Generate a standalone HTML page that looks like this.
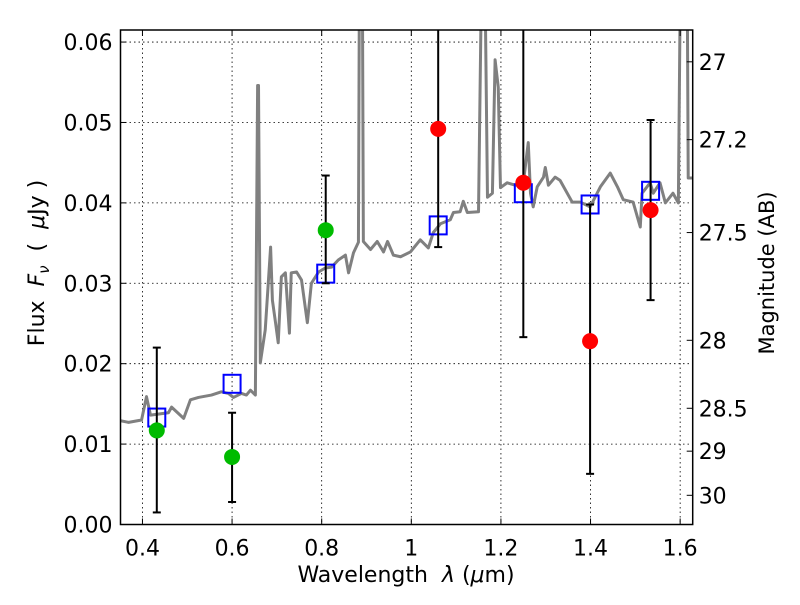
<!DOCTYPE html>
<html><head><meta charset="utf-8"><style>
body{margin:0;background:#fff}
svg text{font-family:"DejaVu Sans","Liberation Sans",sans-serif;fill:#000}
</style></head><body>
<svg id="c" width="800" height="600" viewBox="0 0 800 600"></svg>
<script>
const specWl=[0.351,0.369,0.398,0.409,0.418,0.458,0.465,0.492,0.507,0.525,0.554,0.576,0.592,0.603,0.621,0.632,0.641,0.652,0.657,0.659,0.663,0.674,0.686,0.690,0.697,0.703,0.710,0.719,0.728,0.732,0.744,0.755,0.768,0.777,0.793,0.808,0.822,0.837,0.853,0.860,0.871,0.882,0.884,0.891,0.893,0.909,0.924,0.938,0.947,0.960,0.976,0.998,1.020,1.038,1.049,1.065,1.087,1.094,1.109,1.116,1.125,1.150,1.156,1.165,1.170,1.181,1.187,1.194,1.199,1.214,1.232,1.250,1.261,1.266,1.272,1.281,1.295,1.299,1.306,1.321,1.332,1.359,1.377,1.399,1.422,1.444,1.460,1.473,1.495,1.511,1.515,1.533,1.540,1.555,1.567,1.584,1.596,1.600,1.616,1.618,1.630];
const specFlux=[0.0129,0.0127,0.0130,0.0159,0.0136,0.0139,0.0146,0.0132,0.0155,0.0158,0.0161,0.0165,0.0163,0.0158,0.0163,0.0161,0.0167,0.0161,0.0546,0.0546,0.0201,0.0242,0.0345,0.0279,0.0251,0.0226,0.0308,0.0313,0.0238,0.0313,0.0314,0.0304,0.0251,0.0300,0.0314,0.0319,0.0320,0.0329,0.0335,0.0313,0.0338,0.0351,0.065,0.065,0.0352,0.0342,0.0352,0.0339,0.0352,0.0335,0.0333,0.0339,0.0354,0.0344,0.0363,0.0374,0.0379,0.0388,0.0389,0.0402,0.0388,0.0389,0.065,0.065,0.0407,0.0412,0.0578,0.0544,0.0419,0.0425,0.0422,0.0425,0.0475,0.0412,0.0395,0.0420,0.0432,0.0444,0.0422,0.0432,0.0428,0.0401,0.0401,0.0395,0.0420,0.0437,0.0420,0.0404,0.0401,0.0370,0.0412,0.0425,0.0412,0.0425,0.0400,0.0412,0.0400,0.065,0.065,0.0431,0.0431];
const modelWl=[0.432,0.600,0.809,1.060,1.250,1.399,1.534];
const modelFlux=[0.0133,0.0175,0.0312,0.0372,0.0412,0.0398,0.0415];
const obsWl=[0.432,0.600,0.809,1.060,1.250,1.399,1.534];
const obsFlux=[0.0117,0.0084,0.0366,0.0492,0.0425,0.0228,0.0391];
const obsLo=[0.0015,0.0028,0.0300,0.0345,0.0233,0.0063,0.0279];
const obsHi=[0.0220,0.0139,0.0434,0.0700,0.0700,0.0398,0.0503];
const obsColor=['#00bb00','#00bb00','#00bb00','#ff0000','#ff0000','#ff0000','#ff0000'];
const xTicks=[0.4,0.6,0.8,1.0,1.2,1.4,1.6];
const xTickLabels=['0.4','0.6','0.8','1','1.2','1.4','1.6'];
const yTicks=[0,0.01,0.02,0.03,0.04,0.05,0.06];
const yTickLabels=['0.00','0.01','0.02','0.03','0.04','0.05','0.06'];
const magTicks=[27,27.2,27.5,28,28.5,29,30];
const magTickLabels=['27','27.2','27.5','28','28.5','29','30'];

const L=120.5,R=692.7,T=30,B=524.5;
const X0=0.351,X1=1.628,Y0=0,Y1=0.0615;
const sx=v=>L+(v-X0)/(X1-X0)*(R-L);
const sy=v=>B-(v-Y0)/(Y1-Y0)*(B-T);
const svg=document.getElementById('c');
const NS='http://www.w3.org/2000/svg';
function mk(tag,at,parent){const e=document.createElementNS(NS,tag);for(const k in at)e.setAttribute(k,at[k]);(parent||svg).appendChild(e);return e;}

const defs=mk('defs',{});
const cp=mk('clipPath',{id:'pc'},defs);
mk('rect',{x:L,y:T,width:R-L,height:B-T},cp);

xTicks.forEach(v=>{const g=mk('line',{x1:sx(v),x2:sx(v),y1:T,y2:B,stroke:'#000','stroke-width':0.8,'stroke-dasharray':'1.5,3'});

});
yTicks.slice(1).forEach(v=>{const g=mk('line',{x1:L,x2:R,y1:sy(v),y2:sy(v),stroke:'#000','stroke-width':0.8,'stroke-dasharray':'1.5,3'});

});

const plot=mk('g',{'clip-path':'url(#pc)'});


const sp=mk('polyline',{points:specWl.map((w,i)=>sx(w)+','+sy(specFlux[i])).join(' '),fill:'none',stroke:'#808080','stroke-width':3,'stroke-linejoin':'round'},plot);


modelWl.forEach((w,i)=>{const r=mk('rect',{x:sx(w)-8.5,y:sy(modelFlux[i])-9,width:17,height:18,fill:'none',stroke:'#0000ff','stroke-width':2},plot);

});
obsWl.forEach((w,i)=>{const g=mk('g',{},plot);


const x=sx(w);mk('line',{x1:x,x2:x,y1:sy(obsLo[i]),y2:sy(obsHi[i]),stroke:'#000','stroke-width':2},g);
[obsLo[i],obsHi[i]].forEach(v=>mk('line',{x1:x-4,x2:x+4,y1:sy(v),y2:sy(v),stroke:'#000','stroke-width':2},g));});
obsWl.forEach((w,i)=>{const c=mk('circle',{cx:sx(w),cy:sy(obsFlux[i]),r:8,fill:obsColor[i]},plot);

});

const fr=mk('rect',{x:L,y:T,width:R-L,height:B-T,fill:'none',stroke:'#000','stroke-width':1.5});



xTicks.forEach((v,i)=>{const x=sx(v);
mk('line',{x1:x,x2:x,y1:B,y2:B-6,stroke:'#000'});mk('line',{x1:x,x2:x,y1:T,y2:T+6,stroke:'#000'});
const t=mk('text',{x:x,y:B+31,'text-anchor':'middle','font-size':22});t.textContent=xTickLabels[i];

});
yTicks.forEach((v,i)=>{const y=sy(v);
mk('line',{x1:L,x2:L+6,y1:y,y2:y,stroke:'#000'});
const t=mk('text',{x:L-8,y:y+8,'text-anchor':'end','font-size':22});t.textContent=yTickLabels[i];

});
magTicks.forEach((m,i)=>{const y=sy(Math.pow(10,(23.9-m)/2.5));
mk('line',{x1:R,x2:R-6,y1:y,y2:y,stroke:'#000'});
const t=mk('text',{x:R+6,y:y+8,'font-size':22});t.textContent=magTickLabels[i];

});
</script>
<svg width="800" height="600" style="position:absolute;left:0;top:0">
<text x="406" y="582" text-anchor="middle" font-size="22">Wavelength&#160;&#160;<tspan font-style="italic">λ</tspan> (<tspan font-style="italic">μ</tspan>m)</text>
<text transform="translate(44,263) rotate(-90)" text-anchor="middle" font-size="22">Flux&#160;&#160;<tspan font-style="italic">F</tspan><tspan font-style="italic" font-size="15" dy="5">ν</tspan><tspan dy="-5">&#160;&#160;(&#160;&#160;</tspan><tspan font-style="italic">μ</tspan>Jy )</text>
<text transform="translate(774,273) rotate(-90)" text-anchor="middle" font-size="21">Magnitude (AB)</text>
</svg>
</body></html>
